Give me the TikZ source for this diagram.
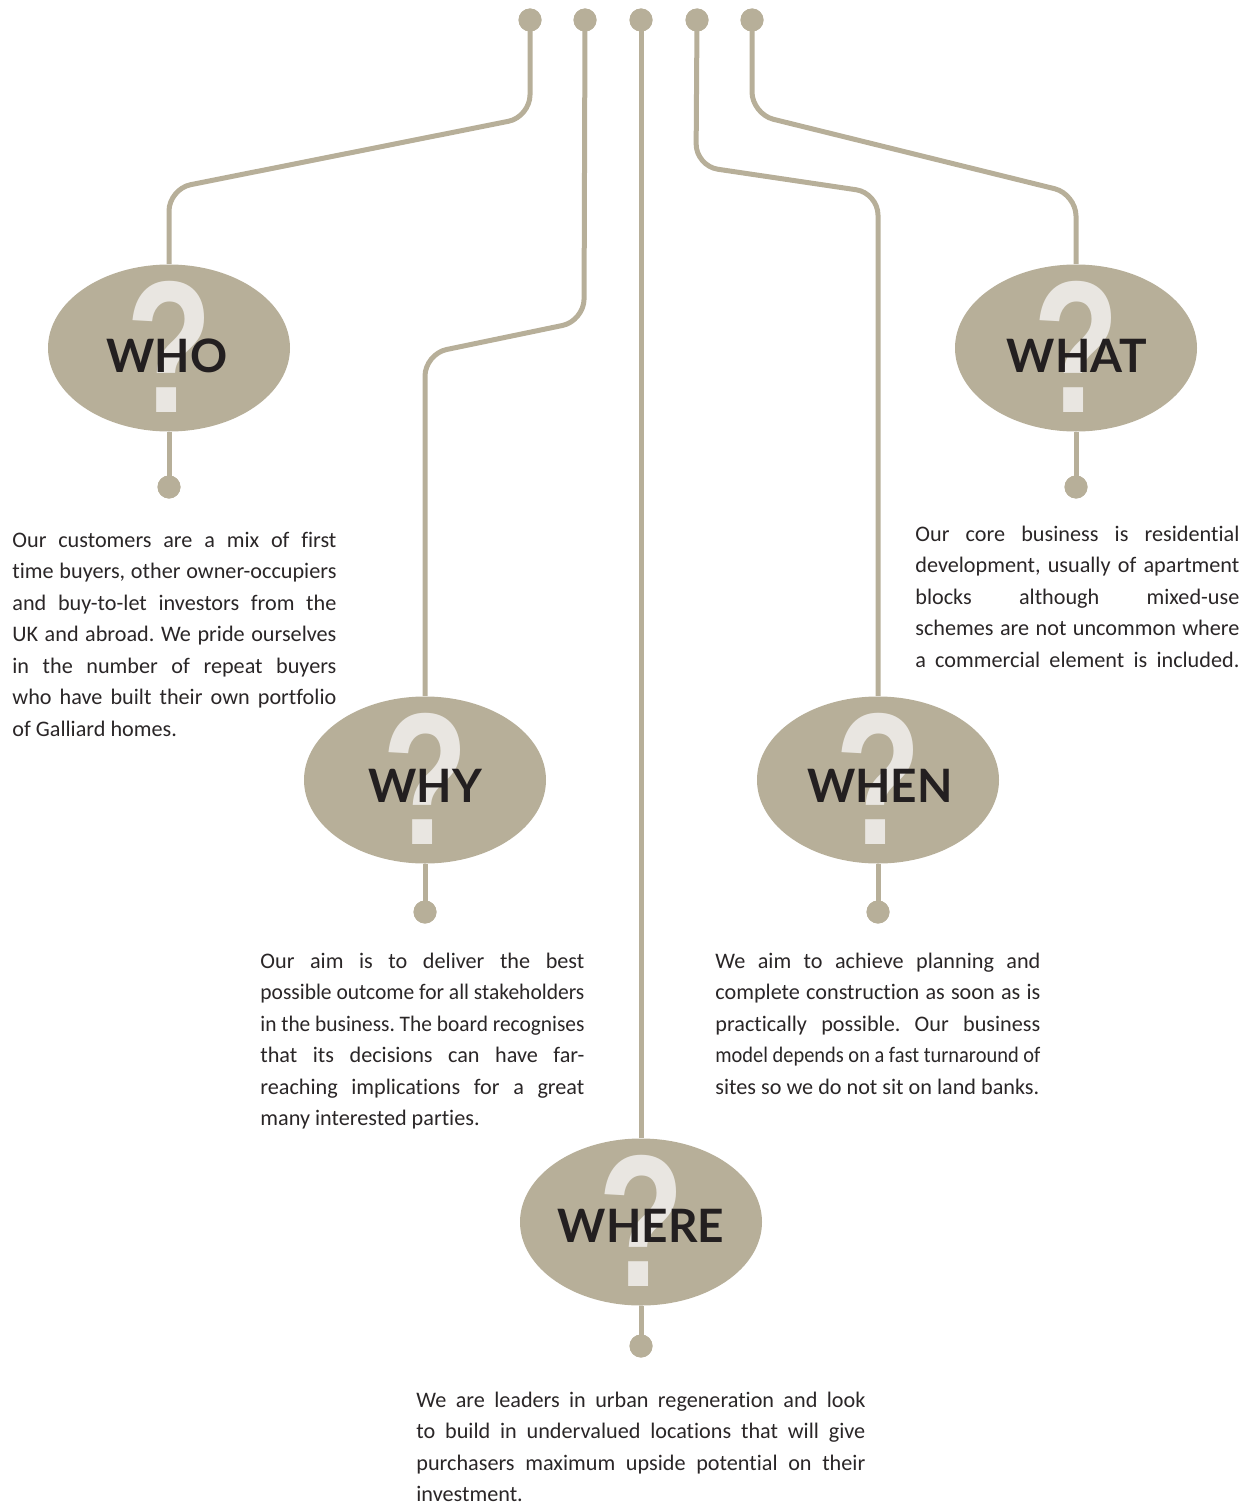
\documentclass[tikz,border=0pt]{standalone}
\usepackage{fontspec}
\usepackage{graphicx}
\setmainfont{Carlito}[Ligatures=NoCommon]
\newfontfamily\labelfont{Lato}
\newfontfamily\qfont{Liberation Sans}
\usetikzlibrary{shapes.geometric}
\definecolor{tan}{HTML}{B7AF99}
\definecolor{qlight}{HTML}{E9E6E1}
\definecolor{ink}{HTML}{231F20}
\definecolor{bodyink}{HTML}{2A2627}
\newsavebox{\jlbox}
\newcommand{\jline}[1]{\sbox{\jlbox}{#1}%
  \ifdim\wd\jlbox>\linewidth\resizebox{\linewidth}{\height}{\usebox{\jlbox}}%
  \else\makebox[\linewidth][s]{#1}\fi}
\newcommand{\bodysize}{\fontsize{11.1}{15.75}\selectfont\frenchspacing}
\tikzset{
  conn/.style={draw=tan, line width=2.5pt, rounded corners=11pt},
  dotn/.style={circle, fill=tan, minimum size=11.5pt, inner sep=0pt},
  qell/.style={ellipse, fill=tan, minimum width=121pt, minimum height=83.5pt, inner sep=0pt},
  qmark/.style={anchor=base, inner sep=0pt, text=qlight, xscale=0.75, font=\qfont\bfseries\fontsize{94}{94}\selectfont},
  lbl/.style={anchor=base, inner sep=0pt, text=ink, font=\labelfont\bfseries\fontsize{23}{28}\selectfont},
  body/.style={anchor=base west, inner sep=0pt, text=bodyink, align=left}
}
\begin{document}
\begin{tikzpicture}[x=0.5pt,y=-0.5pt]
\useasboundingbox (0,0) rectangle (1252,1504);
% top dots
\node[dotn] (t1) at (530,20) {};
\node[dotn] (t2) at (585,20) {};
\node[dotn] (t3) at (641,20) {};
\node[dotn] (t4) at (697,20) {};
\node[dotn] (t5) at (752,20) {};
% ellipses
\node[qell] (who) at (169,348) {};
\node[qell] (why) at (425,780) {};
\node[qell] (where) at (641,1222) {};
\node[qell] (when) at (878,780) {};
\node[qell] (what) at (1076,348) {};
% bottom dots
\node[dotn] (b1) at (169,487) {};
\node[dotn] (b2) at (425,912) {};
\node[dotn] (b3) at (641,1346) {};
\node[dotn] (b4) at (878,912) {};
\node[dotn] (b5) at (1076,487) {};
% connectors
\draw[conn] (t1.center) -- (530,117) -- (169,189) -- (who.north);
\draw[conn] (t2.center) -- (584,321) -- (425,354) -- (why.north);
\draw[conn] (t3.center) -- (where.north);
\draw[conn] (t4.center) -- (696,166) -- (878,193) -- (when.north);
\draw[conn] (t5.center) -- (752,114) -- (1076,194) -- (what.north);
\draw[conn] (who.south) -- (b1.center);
\draw[conn] (why.south) -- (b2.center);
\draw[conn] (where.south) -- (b3.center);
\draw[conn] (when.south) -- (b4.center);
\draw[conn] (what.south) -- (b5.center);
% redraw dots on top
\foreach \n in {t1,t2,t3,t4,t5,b1,b2,b3,b4,b5} { \fill[tan] (\n) circle[radius=5.75pt]; }
% question marks
\node[qmark] (q1) at (170,412) {?};
\node[qmark] (q2) at (426,844) {?};
\node[qmark] (q3) at (642,1286) {?};
\node[qmark] (q4) at (879,844) {?};
\node[qmark] (q5) at (1077,412) {?};
% labels
\node[lbl] (l1) at (167,372) {WHO};
\node[lbl] (l2) at (425,802) {WHY};
\node[lbl] (l3) at (641,1242) {WHERE};
\node[lbl] (l4) at (880,802) {WHEN};
\node[lbl] (l5) at (1077,372) {WHAT};
% texts
\node[body] (x1) at (12,547) {\parbox[t]{162pt}{\bodysize
\jline{Our customers are a mix of first}\\
\jline{time buyers, other owner-occupiers}\\
\jline{and buy-to-let investors from the}\\
\jline{UK and abroad. We pride ourselves}\\
\jline{in the number of repeat buyers}\\
\jline{who have built their own portfolio}\\
of Galliard homes.}};
\node[body] (x5) at (915,541) {\parbox[t]{162pt}{\bodysize
\jline{Our core business is residential}\\
\jline{development, usually of apartment}\\
\jline{blocks although mixed-use}\\
\jline{schemes are not uncommon where}\\
\jline{a commercial element is included.}}};
\node[body] (x2) at (260,968) {\parbox[t]{162pt}{\bodysize
\jline{Our aim is to deliver the best}\\
\jline{possible outcome for all stakeholders}\\
\jline{in the business. The board recognises}\\
\jline{that its decisions can have far-}\\
\jline{reaching implications for a great}\\
many interested parties.}};
\node[body] (x4) at (715,968) {\parbox[t]{162.5pt}{\bodysize
\jline{We aim to achieve planning and}\\
\jline{complete construction as soon as is}\\
\jline{practically possible. Our business}\\
\jline{model depends on a fast turnaround of}\\
sites so we do not sit on land banks.}};
\node[body] (x3) at (416,1407) {\parbox[t]{224.5pt}{\bodysize
\jline{We are leaders in urban regeneration and look}\\
\jline{to build in undervalued locations that will give}\\
\jline{purchasers maximum upside potential on their}\\
investment.}};
\end{tikzpicture}
\end{document}
